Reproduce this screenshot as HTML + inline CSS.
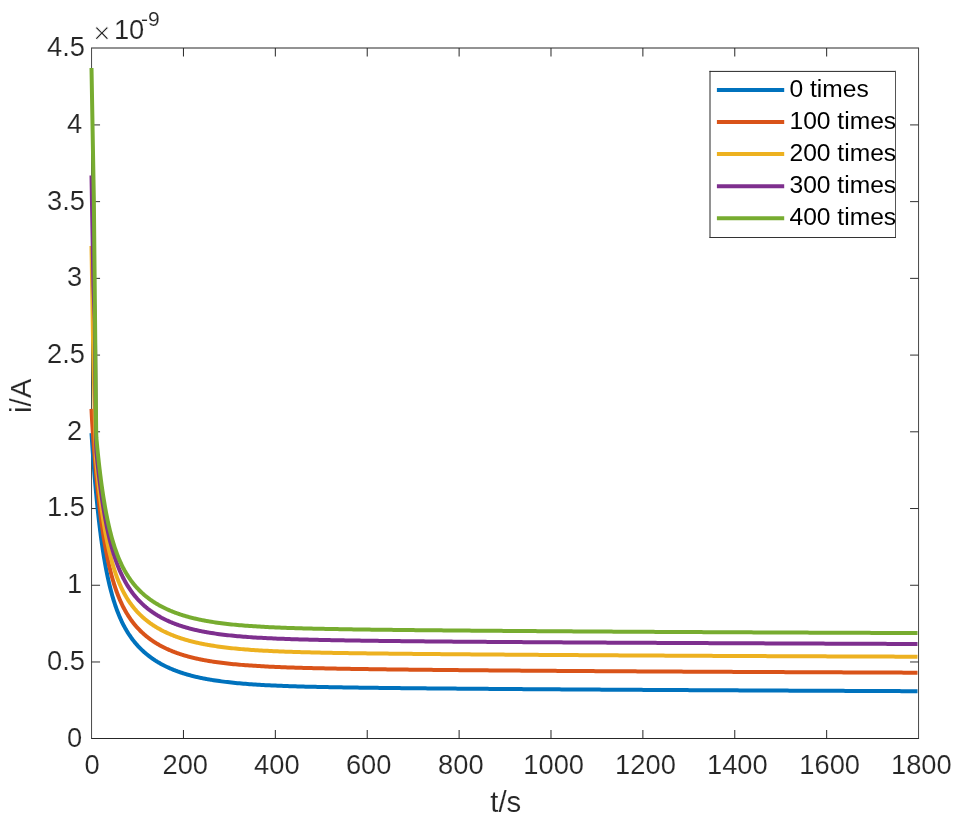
<!DOCTYPE html>
<html lang="en"><head><meta charset="utf-8"><title>i-t curves</title>
<style>html,body{margin:0;padding:0;background:#fff}body{width:958px;height:824px;overflow:hidden}svg{display:block}text{font-family:"Liberation Sans",sans-serif;fill:#262626;stroke:#fff;stroke-width:0.15px}.lg text{fill:#000;stroke:none}</style></head><body>
<svg width="958" height="824" viewBox="0 0 958 824">
<rect width="958" height="824" fill="#fff"/>
<g stroke="#262626" stroke-width="1" fill="none">
<path d="M91.05,738.5 H919.05"/>
<path d="M91.05,48.0 H919.05"/>
<path stroke="#484848" d="M91.55,48.0 V738.5 M918.55,48.0 V738.5"/>
<path d="M183.44,738.5 v-8.5 M183.44,48.0 v8.5"/>
<path stroke="#303030" d="M91.55,661.98 h8.5 M918.55,661.98 h-8.5"/>
<path d="M275.33,738.5 v-8.5 M275.33,48.0 v8.5"/>
<path stroke="#303030" d="M91.55,585.26 h8.5 M918.55,585.26 h-8.5"/>
<path d="M367.22,738.5 v-8.5 M367.22,48.0 v8.5"/>
<path stroke="#303030" d="M91.55,508.53 h8.5 M918.55,508.53 h-8.5"/>
<path d="M459.11,738.5 v-8.5 M459.11,48.0 v8.5"/>
<path stroke="#303030" d="M91.55,431.81 h8.5 M918.55,431.81 h-8.5"/>
<path d="M550.99,738.5 v-8.5 M550.99,48.0 v8.5"/>
<path stroke="#303030" d="M91.55,355.09 h8.5 M918.55,355.09 h-8.5"/>
<path d="M642.88,738.5 v-8.5 M642.88,48.0 v8.5"/>
<path stroke="#303030" d="M91.55,278.37 h8.5 M918.55,278.37 h-8.5"/>
<path d="M734.77,738.5 v-8.5 M734.77,48.0 v8.5"/>
<path stroke="#303030" d="M91.55,201.64 h8.5 M918.55,201.64 h-8.5"/>
<path d="M826.66,738.5 v-8.5 M826.66,48.0 v8.5"/>
<path stroke="#303030" d="M91.55,124.92 h8.5 M918.55,124.92 h-8.5"/>
</g>
<g fill="none" stroke-width="4" stroke-linejoin="round" stroke-linecap="butt">
<path stroke="#0072BD" d="M91.50,433.10 L91.70,436.19 L91.90,439.23 L92.10,442.22 L92.30,445.16 L92.50,448.06 L92.70,450.91 L92.90,453.71 L93.10,456.47 L93.30,459.18 L93.50,461.86 L93.70,464.49 L93.90,467.07 L94.10,469.62 L94.30,472.13 L94.50,474.60 L94.70,477.03 L94.90,479.42 L95.10,481.77 L95.30,484.09 L95.50,486.37 L95.70,488.62 L95.90,490.83 L96.10,493.00 L96.30,495.15 L96.50,497.26 L96.70,499.34 L96.90,501.38 L97.10,503.40 L97.30,505.38 L97.50,507.34 L97.70,509.26 L97.90,511.16 L98.10,513.02 L98.30,514.86 L98.50,516.67 L98.70,518.46 L98.90,520.21 L99.10,521.94 L99.30,523.65 L99.50,525.33 L99.70,526.99 L99.90,528.62 L100.10,530.22 L100.30,531.81 L100.50,533.37 L100.70,534.90 L100.90,536.42 L101.10,537.91 L101.30,539.38 L101.50,540.83 L101.70,542.26 L101.90,543.67 L102.10,545.06 L102.30,546.43 L102.50,547.78 L102.70,549.11 L102.90,550.42 L103.10,551.72 L103.30,552.99 L103.50,554.25 L104.00,557.31 L104.50,560.28 L105.00,563.14 L105.50,565.90 L106.00,568.57 L106.50,571.16 L107.00,573.65 L107.50,576.07 L108.00,578.41 L108.50,580.67 L109.00,582.87 L109.50,584.99 L110.00,587.05 L110.50,589.04 L111.00,590.97 L111.50,592.84 L112.00,594.66 L112.50,596.43 L113.00,598.14 L113.50,599.80 L114.00,601.41 L114.50,602.98 L115.00,604.50 L115.50,605.99 L116.00,607.43 L116.50,608.83 L117.00,610.19 L117.50,611.52 L118.00,612.81 L118.50,614.07 L119.00,615.29 L119.50,616.49 L120.00,617.65 L120.50,618.78 L121.00,619.89 L121.50,620.97 L122.00,622.02 L122.50,623.05 L123.00,624.05 L123.50,625.04 L124.00,625.99 L124.50,626.93 L125.00,627.84 L125.50,628.74 L126.00,629.61 L126.50,630.47 L127.00,631.30 L127.50,632.12 L128.00,632.93 L128.50,633.71 L129.00,634.48 L129.50,635.23 L130.00,635.97 L130.50,636.69 L131.00,637.40 L131.50,638.10 L132.00,638.78 L132.50,639.45 L133.00,640.10 L133.50,640.75 L134.00,641.38 L134.50,642.00 L135.00,642.61 L135.50,643.21 L136.00,643.79 L136.50,644.37 L137.00,644.94 L137.50,645.49 L138.00,646.04 L138.50,646.58 L139.00,647.11 L139.50,647.63 L140.00,648.14 L140.50,648.64 L141.00,649.14 L141.50,649.62 L142.00,650.10 L142.50,650.57 L143.00,651.04 L143.50,651.49 L144.00,651.94 L144.50,652.39 L145.00,652.82 L145.50,653.25 L146.00,653.67 L146.50,654.09 L147.00,654.50 L147.50,654.90 L148.00,655.30 L148.50,655.69 L149.00,656.08 L149.50,656.46 L150.00,656.84 L150.50,657.21 L151.00,657.57 L151.50,657.93 L152.00,658.29 L152.50,658.64 L153.00,658.98 L153.50,659.32 L154.00,659.66 L154.50,659.99 L155.00,660.31 L155.50,660.64 L156.00,660.95 L156.50,661.27 L157.00,661.58 L157.50,661.88 L158.00,662.18 L158.50,662.48 L159.00,662.77 L159.50,663.06 L160.00,663.35 L160.50,663.63 L161.00,663.91 L161.50,664.18 L162.00,664.45 L162.50,664.72 L163.00,664.98 L163.50,665.24 L164.00,665.50 L164.50,665.75 L165.00,666.01 L165.50,666.25 L166.00,666.50 L166.50,666.74 L167.00,666.98 L167.50,667.21 L168.00,667.44 L168.50,667.67 L169.00,667.90 L169.50,668.12 L170.00,668.35 L170.50,668.56 L171.00,668.78 L171.50,668.99 L172.00,669.20 L172.50,669.41 L173.00,669.62 L173.50,669.82 L174.00,670.02 L174.50,670.22 L175.00,670.41 L175.50,670.60 L176.00,670.80 L176.50,670.98 L177.00,671.17 L177.50,671.35 L178.00,671.54 L178.50,671.71 L179.00,671.89 L179.50,672.07 L180.00,672.24 L180.50,672.41 L181.00,672.58 L181.50,672.75 L182.00,672.91 L182.50,673.08 L183.00,673.24 L183.50,673.40 L184.00,673.55 L184.50,673.71 L185.00,673.86 L185.50,674.01 L186.00,674.16 L186.50,674.31 L187.00,674.46 L187.50,674.60 L188.00,674.75 L188.50,674.89 L189.00,675.03 L189.50,675.16 L190.00,675.30 L190.50,675.44 L191.00,675.57 L191.50,675.70 L192.00,675.83 L192.50,675.96 L193.00,676.09 L193.50,676.21 L194.00,676.34 L194.50,676.46 L195.00,676.58 L195.50,676.70 L196.00,676.82 L196.50,676.94 L197.00,677.05 L197.50,677.17 L198.00,677.28 L198.50,677.39 L199.00,677.50 L199.50,677.61 L200.00,677.72 L200.50,677.83 L201.00,677.93 L201.50,678.04 L202.00,678.14 L202.50,678.24 L203.00,678.34 L203.50,678.44 L204.00,678.54 L204.50,678.64 L205.00,678.73 L205.50,678.83 L206.00,678.92 L206.50,679.02 L207.00,679.11 L207.50,679.20 L208.00,679.29 L208.50,679.38 L209.00,679.47 L209.50,679.55 L210.00,679.64 L210.50,679.72 L211.00,679.81 L211.50,679.89 L213.50,680.22 L215.50,680.52 L217.50,680.82 L219.50,681.10 L221.50,681.37 L223.50,681.63 L225.50,681.88 L227.50,682.11 L229.50,682.34 L231.50,682.56 L233.50,682.76 L235.50,682.96 L237.50,683.15 L239.50,683.34 L241.50,683.51 L243.50,683.68 L245.50,683.84 L247.50,683.99 L249.50,684.14 L251.50,684.28 L253.50,684.42 L255.50,684.55 L257.50,684.68 L259.50,684.80 L261.50,684.91 L263.50,685.02 L265.50,685.13 L267.50,685.23 L269.50,685.33 L271.50,685.43 L273.50,685.52 L275.50,685.61 L277.50,685.70 L279.50,685.78 L281.50,685.86 L283.50,685.93 L285.50,686.01 L287.50,686.08 L289.50,686.15 L291.50,686.22 L293.50,686.28 L295.50,686.34 L297.50,686.40 L299.50,686.46 L301.50,686.52 L303.50,686.57 L305.50,686.63 L307.50,686.68 L309.50,686.73 L311.50,686.78 L313.50,686.82 L315.50,686.87 L317.50,686.91 L319.50,686.96 L321.50,687.00 L323.50,687.04 L325.50,687.08 L327.50,687.12 L329.50,687.16 L331.50,687.20 L333.50,687.23 L335.50,687.27 L337.50,687.30 L339.50,687.34 L341.50,687.37 L343.50,687.40 L345.50,687.43 L347.50,687.47 L349.50,687.50 L351.50,687.53 L353.50,687.55 L355.50,687.58 L357.50,687.61 L359.50,687.64 L361.50,687.67 L363.50,687.69 L365.50,687.72 L367.50,687.75 L369.50,687.77 L371.50,687.80 L373.50,687.82 L375.50,687.84 L377.50,687.87 L379.50,687.89 L381.50,687.92 L383.50,687.94 L385.50,687.96 L387.50,687.98 L389.50,688.01 L391.50,688.03 L393.50,688.05 L395.50,688.07 L397.50,688.09 L399.50,688.11 L401.50,688.13 L403.50,688.15 L405.50,688.17 L407.50,688.19 L409.50,688.21 L411.50,688.23 L413.50,688.25 L415.50,688.27 L417.50,688.29 L419.50,688.31 L421.50,688.33 L423.50,688.34 L425.50,688.36 L427.50,688.38 L429.50,688.40 L431.50,688.42 L433.50,688.43 L435.50,688.45 L437.50,688.47 L439.50,688.49 L441.50,688.50 L443.50,688.52 L445.50,688.54 L447.50,688.56 L449.50,688.57 L451.50,688.59 L453.50,688.61 L455.50,688.62 L457.50,688.64 L459.50,688.65 L461.50,688.67 L463.50,688.69 L465.50,688.70 L467.50,688.72 L469.50,688.73 L471.50,688.75 L473.50,688.77 L475.50,688.78 L477.50,688.80 L479.50,688.81 L481.50,688.83 L483.50,688.84 L485.50,688.86 L487.50,688.87 L489.50,688.89 L491.50,688.90 L493.50,688.92 L495.50,688.93 L497.50,688.95 L499.50,688.96 L501.50,688.98 L503.50,688.99 L505.50,689.00 L507.50,689.02 L509.50,689.03 L511.50,689.05 L513.50,689.06 L515.50,689.08 L517.50,689.09 L519.50,689.10 L521.50,689.12 L523.50,689.13 L525.50,689.14 L527.50,689.16 L529.50,689.17 L531.50,689.19 L533.50,689.20 L535.50,689.21 L537.50,689.23 L539.50,689.24 L541.50,689.25 L543.50,689.27 L545.50,689.28 L547.50,689.29 L549.50,689.31 L551.50,689.32 L553.50,689.33 L555.50,689.35 L557.50,689.36 L559.50,689.37 L561.50,689.38 L563.50,689.40 L565.50,689.41 L567.50,689.42 L569.50,689.43 L571.50,689.45 L573.50,689.46 L575.50,689.47 L577.50,689.49 L579.50,689.50 L581.50,689.51 L583.50,689.52 L585.50,689.53 L587.50,689.55 L589.50,689.56 L591.50,689.57 L593.50,689.58 L595.50,689.60 L597.50,689.61 L599.50,689.62 L601.50,689.63 L603.50,689.64 L605.50,689.66 L607.50,689.67 L609.50,689.68 L611.50,689.69 L613.50,689.70 L615.50,689.72 L617.50,689.73 L619.50,689.74 L621.50,689.75 L623.50,689.76 L625.50,689.77 L627.50,689.78 L629.50,689.80 L631.50,689.81 L633.50,689.82 L635.50,689.83 L637.50,689.84 L639.50,689.85 L641.50,689.86 L643.50,689.88 L645.50,689.89 L647.50,689.90 L649.50,689.91 L651.50,689.92 L653.50,689.93 L655.50,689.94 L657.50,689.95 L659.50,689.97 L661.50,689.98 L663.50,689.99 L665.50,690.00 L667.50,690.01 L669.50,690.02 L671.50,690.03 L673.50,690.04 L675.50,690.05 L677.50,690.06 L679.50,690.07 L681.50,690.08 L683.50,690.10 L685.50,690.11 L687.50,690.12 L689.50,690.13 L691.50,690.14 L693.50,690.15 L695.50,690.16 L697.50,690.17 L699.50,690.18 L701.50,690.19 L703.50,690.20 L705.50,690.21 L707.50,690.22 L709.50,690.23 L711.50,690.24 L713.50,690.25 L715.50,690.26 L717.50,690.27 L719.50,690.28 L721.50,690.29 L723.50,690.30 L725.50,690.31 L727.50,690.32 L729.50,690.33 L731.50,690.34 L733.50,690.35 L735.50,690.36 L737.50,690.37 L739.50,690.38 L741.50,690.39 L743.50,690.40 L745.50,690.41 L747.50,690.42 L749.50,690.43 L751.50,690.44 L753.50,690.45 L755.50,690.46 L757.50,690.47 L759.50,690.48 L761.50,690.49 L763.50,690.50 L765.50,690.51 L767.50,690.52 L769.50,690.53 L771.50,690.54 L773.50,690.55 L775.50,690.56 L777.50,690.57 L779.50,690.58 L781.50,690.59 L783.50,690.60 L785.50,690.61 L787.50,690.62 L789.50,690.63 L791.50,690.64 L793.50,690.64 L795.50,690.65 L797.50,690.66 L799.50,690.67 L801.50,690.68 L803.50,690.69 L805.50,690.70 L807.50,690.71 L809.50,690.72 L811.50,690.73 L813.50,690.74 L815.50,690.75 L817.50,690.76 L819.50,690.77 L821.50,690.77 L823.50,690.78 L825.50,690.79 L827.50,690.80 L829.50,690.81 L831.50,690.82 L833.50,690.83 L835.50,690.84 L837.50,690.85 L839.50,690.86 L841.50,690.87 L843.50,690.87 L845.50,690.88 L847.50,690.89 L849.50,690.90 L851.50,690.91 L853.50,690.92 L855.50,690.93 L857.50,690.94 L859.50,690.95 L861.50,690.96 L863.50,690.96 L865.50,690.97 L867.50,690.98 L869.50,690.99 L871.50,691.00 L873.50,691.01 L875.50,691.02 L877.50,691.03 L879.50,691.03 L881.50,691.04 L883.50,691.05 L885.50,691.06 L887.50,691.07 L889.50,691.08 L891.50,691.09 L893.50,691.10 L895.50,691.10 L897.50,691.11 L899.50,691.12 L901.50,691.13 L903.50,691.14 L905.50,691.15 L907.50,691.16 L909.50,691.16 L911.50,691.17 L913.50,691.18 L915.50,691.19 L917.50,691.20"/>
<path stroke="#D95319" d="M91.50,408.80 L91.70,413.53 L91.90,417.45 L92.10,420.94 L92.30,424.18 L92.50,427.26 L92.70,430.25 L92.90,433.16 L93.10,436.01 L93.30,438.81 L93.50,441.56 L93.70,444.26 L93.90,446.92 L94.10,449.54 L94.30,452.11 L94.50,454.64 L94.70,457.14 L94.90,459.59 L95.10,462.01 L95.30,464.38 L95.50,466.72 L95.70,469.02 L95.90,471.29 L96.10,473.52 L96.30,475.72 L96.50,477.88 L96.70,480.00 L96.90,482.10 L97.10,484.16 L97.30,486.19 L97.50,488.19 L97.70,490.16 L97.90,492.10 L98.10,494.01 L98.30,495.89 L98.50,497.74 L98.70,499.56 L98.90,501.36 L99.10,503.13 L99.30,504.87 L99.50,506.58 L99.70,508.27 L99.90,509.94 L100.10,511.58 L100.30,513.19 L100.50,514.78 L100.70,516.35 L100.90,517.89 L101.10,519.42 L101.30,520.92 L101.50,522.39 L101.70,523.85 L101.90,525.29 L102.10,526.70 L102.30,528.09 L102.50,529.47 L102.70,530.82 L102.90,532.16 L103.10,533.47 L103.30,534.77 L103.50,536.05 L104.00,539.16 L104.50,542.17 L105.00,545.08 L105.50,547.88 L106.00,550.59 L106.50,553.21 L107.00,555.75 L107.50,558.19 L108.00,560.56 L108.50,562.85 L109.00,565.07 L109.50,567.22 L110.00,569.30 L110.50,571.31 L111.00,573.26 L111.50,575.15 L112.00,576.99 L112.50,578.77 L113.00,580.49 L113.50,582.17 L114.00,583.79 L114.50,585.37 L115.00,586.90 L115.50,588.39 L116.00,589.84 L116.50,591.25 L117.00,592.62 L117.50,593.95 L118.00,595.25 L118.50,596.51 L119.00,597.74 L119.50,598.94 L120.00,600.11 L120.50,601.24 L121.00,602.35 L121.50,603.43 L122.00,604.49 L122.50,605.52 L123.00,606.52 L123.50,607.50 L124.00,608.46 L124.50,609.39 L125.00,610.31 L125.50,611.20 L126.00,612.07 L126.50,612.93 L127.00,613.76 L127.50,614.58 L128.00,615.38 L128.50,616.16 L129.00,616.92 L129.50,617.67 L130.00,618.41 L130.50,619.13 L131.00,619.83 L131.50,620.52 L132.00,621.20 L132.50,621.87 L133.00,622.52 L133.50,623.16 L134.00,623.78 L134.50,624.40 L135.00,625.00 L135.50,625.59 L136.00,626.18 L136.50,626.75 L137.00,627.31 L137.50,627.86 L138.00,628.40 L138.50,628.93 L139.00,629.46 L139.50,629.97 L140.00,630.48 L140.50,630.97 L141.00,631.46 L141.50,631.94 L142.00,632.42 L142.50,632.88 L143.00,633.34 L143.50,633.79 L144.00,634.23 L144.50,634.67 L145.00,635.10 L145.50,635.52 L146.00,635.94 L146.50,636.35 L147.00,636.75 L147.50,637.15 L148.00,637.54 L148.50,637.93 L149.00,638.31 L149.50,638.68 L150.00,639.05 L150.50,639.41 L151.00,639.77 L151.50,640.12 L152.00,640.47 L152.50,640.81 L153.00,641.15 L153.50,641.49 L154.00,641.81 L154.50,642.14 L155.00,642.46 L155.50,642.77 L156.00,643.08 L156.50,643.39 L157.00,643.69 L157.50,643.99 L158.00,644.28 L158.50,644.57 L159.00,644.86 L159.50,645.14 L160.00,645.42 L160.50,645.70 L161.00,645.97 L161.50,646.23 L162.00,646.50 L162.50,646.76 L163.00,647.02 L163.50,647.27 L164.00,647.52 L164.50,647.77 L165.00,648.01 L165.50,648.25 L166.00,648.49 L166.50,648.72 L167.00,648.96 L167.50,649.19 L168.00,649.41 L168.50,649.63 L169.00,649.85 L169.50,650.07 L170.00,650.29 L170.50,650.50 L171.00,650.71 L171.50,650.91 L172.00,651.12 L172.50,651.32 L173.00,651.52 L173.50,651.71 L174.00,651.91 L174.50,652.10 L175.00,652.29 L175.50,652.47 L176.00,652.66 L176.50,652.84 L177.00,653.02 L177.50,653.20 L178.00,653.37 L178.50,653.55 L179.00,653.72 L179.50,653.89 L180.00,654.05 L180.50,654.22 L181.00,654.38 L181.50,654.54 L182.00,654.70 L182.50,654.86 L183.00,655.02 L183.50,655.17 L184.00,655.32 L184.50,655.47 L185.00,655.62 L185.50,655.76 L186.00,655.91 L186.50,656.05 L187.00,656.19 L187.50,656.33 L188.00,656.47 L188.50,656.60 L189.00,656.74 L189.50,656.87 L190.00,657.00 L190.50,657.13 L191.00,657.26 L191.50,657.39 L192.00,657.51 L192.50,657.64 L193.00,657.76 L193.50,657.88 L194.00,658.00 L194.50,658.12 L195.00,658.23 L195.50,658.35 L196.00,658.46 L196.50,658.57 L197.00,658.68 L197.50,658.79 L198.00,658.90 L198.50,659.01 L199.00,659.12 L199.50,659.22 L200.00,659.32 L200.50,659.43 L201.00,659.53 L201.50,659.63 L202.00,659.73 L202.50,659.82 L203.00,659.92 L203.50,660.02 L204.00,660.11 L204.50,660.20 L205.00,660.30 L205.50,660.39 L206.00,660.48 L206.50,660.57 L207.00,660.65 L207.50,660.74 L208.00,660.83 L208.50,660.91 L209.00,661.00 L209.50,661.08 L210.00,661.16 L210.50,661.24 L211.00,661.32 L211.50,661.40 L213.50,661.71 L215.50,662.01 L217.50,662.29 L219.50,662.56 L221.50,662.82 L223.50,663.07 L225.50,663.30 L227.50,663.53 L229.50,663.75 L231.50,663.95 L233.50,664.15 L235.50,664.34 L237.50,664.53 L239.50,664.70 L241.50,664.87 L243.50,665.03 L245.50,665.18 L247.50,665.33 L249.50,665.48 L251.50,665.61 L253.50,665.74 L255.50,665.87 L257.50,665.99 L259.50,666.11 L261.50,666.22 L263.50,666.33 L265.50,666.44 L267.50,666.54 L269.50,666.64 L271.50,666.73 L273.50,666.82 L275.50,666.91 L277.50,666.99 L279.50,667.07 L281.50,667.15 L283.50,667.23 L285.50,667.30 L287.50,667.38 L289.50,667.45 L291.50,667.51 L293.50,667.58 L295.50,667.64 L297.50,667.70 L299.50,667.76 L301.50,667.82 L303.50,667.88 L305.50,667.93 L307.50,667.98 L309.50,668.04 L311.50,668.09 L313.50,668.13 L315.50,668.18 L317.50,668.23 L319.50,668.27 L321.50,668.32 L323.50,668.36 L325.50,668.40 L327.50,668.45 L329.50,668.49 L331.50,668.53 L333.50,668.56 L335.50,668.60 L337.50,668.64 L339.50,668.68 L341.50,668.71 L343.50,668.75 L345.50,668.78 L347.50,668.82 L349.50,668.85 L351.50,668.88 L353.50,668.91 L355.50,668.94 L357.50,668.97 L359.50,669.01 L361.50,669.04 L363.50,669.06 L365.50,669.09 L367.50,669.12 L369.50,669.15 L371.50,669.18 L373.50,669.21 L375.50,669.23 L377.50,669.26 L379.50,669.28 L381.50,669.31 L383.50,669.34 L385.50,669.36 L387.50,669.39 L389.50,669.41 L391.50,669.44 L393.50,669.46 L395.50,669.48 L397.50,669.51 L399.50,669.53 L401.50,669.55 L403.50,669.58 L405.50,669.60 L407.50,669.62 L409.50,669.64 L411.50,669.66 L413.50,669.69 L415.50,669.71 L417.50,669.73 L419.50,669.75 L421.50,669.77 L423.50,669.79 L425.50,669.81 L427.50,669.83 L429.50,669.85 L431.50,669.87 L433.50,669.89 L435.50,669.91 L437.50,669.93 L439.50,669.95 L441.50,669.97 L443.50,669.99 L445.50,670.01 L447.50,670.03 L449.50,670.04 L451.50,670.06 L453.50,670.08 L455.50,670.10 L457.50,670.12 L459.50,670.13 L461.50,670.15 L463.50,670.17 L465.50,670.19 L467.50,670.20 L469.50,670.22 L471.50,670.24 L473.50,670.26 L475.50,670.27 L477.50,670.29 L479.50,670.31 L481.50,670.32 L483.50,670.34 L485.50,670.36 L487.50,670.37 L489.50,670.39 L491.50,670.40 L493.50,670.42 L495.50,670.44 L497.50,670.45 L499.50,670.47 L501.50,670.48 L503.50,670.50 L505.50,670.51 L507.50,670.53 L509.50,670.55 L511.50,670.56 L513.50,670.58 L515.50,670.59 L517.50,670.61 L519.50,670.62 L521.50,670.64 L523.50,670.65 L525.50,670.66 L527.50,670.68 L529.50,670.69 L531.50,670.71 L533.50,670.72 L535.50,670.74 L537.50,670.75 L539.50,670.76 L541.50,670.78 L543.50,670.79 L545.50,670.81 L547.50,670.82 L549.50,670.83 L551.50,670.85 L553.50,670.86 L555.50,670.87 L557.50,670.89 L559.50,670.90 L561.50,670.91 L563.50,670.93 L565.50,670.94 L567.50,670.95 L569.50,670.97 L571.50,670.98 L573.50,670.99 L575.50,671.01 L577.50,671.02 L579.50,671.03 L581.50,671.04 L583.50,671.06 L585.50,671.07 L587.50,671.08 L589.50,671.10 L591.50,671.11 L593.50,671.12 L595.50,671.13 L597.50,671.14 L599.50,671.16 L601.50,671.17 L603.50,671.18 L605.50,671.19 L607.50,671.21 L609.50,671.22 L611.50,671.23 L613.50,671.24 L615.50,671.25 L617.50,671.26 L619.50,671.28 L621.50,671.29 L623.50,671.30 L625.50,671.31 L627.50,671.32 L629.50,671.33 L631.50,671.35 L633.50,671.36 L635.50,671.37 L637.50,671.38 L639.50,671.39 L641.50,671.40 L643.50,671.41 L645.50,671.43 L647.50,671.44 L649.50,671.45 L651.50,671.46 L653.50,671.47 L655.50,671.48 L657.50,671.49 L659.50,671.50 L661.50,671.51 L663.50,671.52 L665.50,671.53 L667.50,671.55 L669.50,671.56 L671.50,671.57 L673.50,671.58 L675.50,671.59 L677.50,671.60 L679.50,671.61 L681.50,671.62 L683.50,671.63 L685.50,671.64 L687.50,671.65 L689.50,671.66 L691.50,671.67 L693.50,671.68 L695.50,671.69 L697.50,671.70 L699.50,671.71 L701.50,671.72 L703.50,671.73 L705.50,671.74 L707.50,671.75 L709.50,671.76 L711.50,671.77 L713.50,671.78 L715.50,671.79 L717.50,671.80 L719.50,671.81 L721.50,671.82 L723.50,671.83 L725.50,671.84 L727.50,671.85 L729.50,671.86 L731.50,671.87 L733.50,671.88 L735.50,671.89 L737.50,671.90 L739.50,671.91 L741.50,671.92 L743.50,671.93 L745.50,671.94 L747.50,671.95 L749.50,671.96 L751.50,671.97 L753.50,671.98 L755.50,671.99 L757.50,672.00 L759.50,672.01 L761.50,672.01 L763.50,672.02 L765.50,672.03 L767.50,672.04 L769.50,672.05 L771.50,672.06 L773.50,672.07 L775.50,672.08 L777.50,672.09 L779.50,672.10 L781.50,672.11 L783.50,672.12 L785.50,672.13 L787.50,672.13 L789.50,672.14 L791.50,672.15 L793.50,672.16 L795.50,672.17 L797.50,672.18 L799.50,672.19 L801.50,672.20 L803.50,672.21 L805.50,672.21 L807.50,672.22 L809.50,672.23 L811.50,672.24 L813.50,672.25 L815.50,672.26 L817.50,672.27 L819.50,672.28 L821.50,672.29 L823.50,672.29 L825.50,672.30 L827.50,672.31 L829.50,672.32 L831.50,672.33 L833.50,672.34 L835.50,672.35 L837.50,672.35 L839.50,672.36 L841.50,672.37 L843.50,672.38 L845.50,672.39 L847.50,672.40 L849.50,672.41 L851.50,672.41 L853.50,672.42 L855.50,672.43 L857.50,672.44 L859.50,672.45 L861.50,672.46 L863.50,672.47 L865.50,672.47 L867.50,672.48 L869.50,672.49 L871.50,672.50 L873.50,672.51 L875.50,672.52 L877.50,672.52 L879.50,672.53 L881.50,672.54 L883.50,672.55 L885.50,672.56 L887.50,672.56 L889.50,672.57 L891.50,672.58 L893.50,672.59 L895.50,672.60 L897.50,672.61 L899.50,672.61 L901.50,672.62 L903.50,672.63 L905.50,672.64 L907.50,672.65 L909.50,672.65 L911.50,672.66 L913.50,672.67 L915.50,672.68 L917.50,672.69"/>
<path stroke="#EDB120" d="M91.50,245.90 L93.00,338.00 L94.30,396.00 L95.90,458.00 L96.40,463.02 L96.50,464.12 L96.70,466.27 L96.90,468.37 L97.10,470.42 L97.30,472.43 L97.50,474.41 L97.70,476.34 L97.90,478.25 L98.10,480.13 L98.30,481.97 L98.50,483.79 L98.70,485.58 L98.90,487.34 L99.10,489.08 L99.30,490.79 L99.50,492.47 L99.70,494.13 L99.90,495.77 L100.10,497.38 L100.30,498.97 L100.50,500.53 L100.70,502.07 L100.90,503.59 L101.10,505.09 L101.30,506.57 L101.50,508.02 L101.70,509.45 L101.90,510.87 L102.10,512.26 L102.30,513.63 L102.50,514.98 L102.70,516.32 L102.90,517.63 L103.10,518.93 L103.30,520.21 L103.50,521.47 L104.00,524.54 L104.50,527.51 L105.00,530.38 L105.50,533.15 L106.00,535.82 L106.50,538.41 L107.00,540.91 L107.50,543.33 L108.00,545.67 L108.50,547.94 L109.00,550.13 L109.50,552.25 L110.00,554.31 L110.50,556.30 L111.00,558.23 L111.50,560.10 L112.00,561.92 L112.50,563.67 L113.00,565.38 L113.50,567.04 L114.00,568.64 L114.50,570.21 L115.00,571.72 L115.50,573.19 L116.00,574.63 L116.50,576.02 L117.00,577.37 L117.50,578.69 L118.00,579.97 L118.50,581.22 L119.00,582.43 L119.50,583.61 L120.00,584.76 L120.50,585.89 L121.00,586.98 L121.50,588.04 L122.00,589.08 L122.50,590.10 L123.00,591.09 L123.50,592.05 L124.00,593.00 L124.50,593.92 L125.00,594.82 L125.50,595.70 L126.00,596.56 L126.50,597.40 L127.00,598.22 L127.50,599.02 L128.00,599.81 L128.50,600.58 L129.00,601.33 L129.50,602.07 L130.00,602.79 L130.50,603.49 L131.00,604.19 L131.50,604.87 L132.00,605.53 L132.50,606.18 L133.00,606.82 L133.50,607.45 L134.00,608.07 L134.50,608.67 L135.00,609.26 L135.50,609.84 L136.00,610.42 L136.50,610.98 L137.00,611.53 L137.50,612.07 L138.00,612.60 L138.50,613.12 L139.00,613.63 L139.50,614.14 L140.00,614.64 L140.50,615.12 L141.00,615.60 L141.50,616.07 L142.00,616.54 L142.50,617.00 L143.00,617.44 L143.50,617.89 L144.00,618.32 L144.50,618.75 L145.00,619.17 L145.50,619.59 L146.00,620.00 L146.50,620.40 L147.00,620.80 L147.50,621.19 L148.00,621.57 L148.50,621.95 L149.00,622.32 L149.50,622.69 L150.00,623.06 L150.50,623.41 L151.00,623.77 L151.50,624.11 L152.00,624.46 L152.50,624.80 L153.00,625.13 L153.50,625.46 L154.00,625.78 L154.50,626.10 L155.00,626.42 L155.50,626.73 L156.00,627.04 L156.50,627.34 L157.00,627.64 L157.50,627.93 L158.00,628.22 L158.50,628.51 L159.00,628.79 L159.50,629.07 L160.00,629.35 L160.50,629.62 L161.00,629.89 L161.50,630.16 L162.00,630.42 L162.50,630.68 L163.00,630.93 L163.50,631.19 L164.00,631.43 L164.50,631.68 L165.00,631.92 L165.50,632.16 L166.00,632.40 L166.50,632.63 L167.00,632.87 L167.50,633.09 L168.00,633.32 L168.50,633.54 L169.00,633.76 L169.50,633.98 L170.00,634.19 L170.50,634.41 L171.00,634.61 L171.50,634.82 L172.00,635.03 L172.50,635.23 L173.00,635.43 L173.50,635.62 L174.00,635.82 L174.50,636.01 L175.00,636.20 L175.50,636.39 L176.00,636.58 L176.50,636.76 L177.00,636.94 L177.50,637.12 L178.00,637.30 L178.50,637.47 L179.00,637.64 L179.50,637.82 L180.00,637.98 L180.50,638.15 L181.00,638.32 L181.50,638.48 L182.00,638.64 L182.50,638.80 L183.00,638.96 L183.50,639.11 L184.00,639.27 L184.50,639.42 L185.00,639.57 L185.50,639.72 L186.00,639.86 L186.50,640.01 L187.00,640.15 L187.50,640.29 L188.00,640.43 L188.50,640.57 L189.00,640.71 L189.50,640.84 L190.00,640.98 L190.50,641.11 L191.00,641.24 L191.50,641.37 L192.00,641.50 L192.50,641.63 L193.00,641.75 L193.50,641.87 L194.00,642.00 L194.50,642.12 L195.00,642.24 L195.50,642.35 L196.00,642.47 L196.50,642.59 L197.00,642.70 L197.50,642.81 L198.00,642.92 L198.50,643.04 L199.00,643.14 L199.50,643.25 L200.00,643.36 L200.50,643.46 L201.00,643.57 L201.50,643.67 L202.00,643.77 L202.50,643.87 L203.00,643.97 L203.50,644.07 L204.00,644.17 L204.50,644.27 L205.00,644.36 L205.50,644.46 L206.00,644.55 L206.50,644.64 L207.00,644.73 L207.50,644.82 L208.00,644.91 L208.50,645.00 L209.00,645.09 L209.50,645.17 L210.00,645.26 L210.50,645.34 L211.00,645.43 L211.50,645.51 L213.50,645.83 L215.50,646.14 L217.50,646.43 L219.50,646.71 L221.50,646.98 L223.50,647.24 L225.50,647.49 L227.50,647.72 L229.50,647.95 L231.50,648.17 L233.50,648.37 L235.50,648.57 L237.50,648.76 L239.50,648.95 L241.50,649.12 L243.50,649.29 L245.50,649.45 L247.50,649.61 L249.50,649.76 L251.50,649.90 L253.50,650.04 L255.50,650.17 L257.50,650.30 L259.50,650.42 L261.50,650.54 L263.50,650.65 L265.50,650.76 L267.50,650.86 L269.50,650.96 L271.50,651.06 L273.50,651.15 L275.50,651.24 L277.50,651.33 L279.50,651.41 L281.50,651.49 L283.50,651.57 L285.50,651.65 L287.50,651.72 L289.50,651.79 L291.50,651.86 L293.50,651.92 L295.50,651.98 L297.50,652.04 L299.50,652.10 L301.50,652.16 L303.50,652.22 L305.50,652.27 L307.50,652.32 L309.50,652.37 L311.50,652.42 L313.50,652.47 L315.50,652.52 L317.50,652.56 L319.50,652.60 L321.50,652.65 L323.50,652.69 L325.50,652.73 L327.50,652.77 L329.50,652.81 L331.50,652.84 L333.50,652.88 L335.50,652.91 L337.50,652.95 L339.50,652.98 L341.50,653.02 L343.50,653.05 L345.50,653.08 L347.50,653.11 L349.50,653.14 L351.50,653.17 L353.50,653.20 L355.50,653.23 L357.50,653.26 L359.50,653.28 L361.50,653.31 L363.50,653.34 L365.50,653.36 L367.50,653.39 L369.50,653.41 L371.50,653.44 L373.50,653.46 L375.50,653.49 L377.50,653.51 L379.50,653.53 L381.50,653.56 L383.50,653.58 L385.50,653.60 L387.50,653.62 L389.50,653.65 L391.50,653.67 L393.50,653.69 L395.50,653.71 L397.50,653.73 L399.50,653.75 L401.50,653.77 L403.50,653.79 L405.50,653.81 L407.50,653.83 L409.50,653.85 L411.50,653.87 L413.50,653.89 L415.50,653.91 L417.50,653.93 L419.50,653.95 L421.50,653.96 L423.50,653.98 L425.50,654.00 L427.50,654.02 L429.50,654.04 L431.50,654.05 L433.50,654.07 L435.50,654.09 L437.50,654.11 L439.50,654.12 L441.50,654.14 L443.50,654.16 L445.50,654.17 L447.50,654.19 L449.50,654.21 L451.50,654.22 L453.50,654.24 L455.50,654.26 L457.50,654.27 L459.50,654.29 L461.50,654.31 L463.50,654.32 L465.50,654.34 L467.50,654.35 L469.50,654.37 L471.50,654.38 L473.50,654.40 L475.50,654.42 L477.50,654.43 L479.50,654.45 L481.50,654.46 L483.50,654.48 L485.50,654.49 L487.50,654.51 L489.50,654.52 L491.50,654.54 L493.50,654.55 L495.50,654.57 L497.50,654.58 L499.50,654.60 L501.50,654.61 L503.50,654.62 L505.50,654.64 L507.50,654.65 L509.50,654.67 L511.50,654.68 L513.50,654.70 L515.50,654.71 L517.50,654.72 L519.50,654.74 L521.50,654.75 L523.50,654.77 L525.50,654.78 L527.50,654.79 L529.50,654.81 L531.50,654.82 L533.50,654.84 L535.50,654.85 L537.50,654.86 L539.50,654.88 L541.50,654.89 L543.50,654.90 L545.50,654.92 L547.50,654.93 L549.50,654.94 L551.50,654.96 L553.50,654.97 L555.50,654.98 L557.50,655.00 L559.50,655.01 L561.50,655.02 L563.50,655.03 L565.50,655.05 L567.50,655.06 L569.50,655.07 L571.50,655.09 L573.50,655.10 L575.50,655.11 L577.50,655.12 L579.50,655.14 L581.50,655.15 L583.50,655.16 L585.50,655.17 L587.50,655.19 L589.50,655.20 L591.50,655.21 L593.50,655.22 L595.50,655.23 L597.50,655.25 L599.50,655.26 L601.50,655.27 L603.50,655.28 L605.50,655.29 L607.50,655.31 L609.50,655.32 L611.50,655.33 L613.50,655.34 L615.50,655.35 L617.50,655.37 L619.50,655.38 L621.50,655.39 L623.50,655.40 L625.50,655.41 L627.50,655.42 L629.50,655.43 L631.50,655.45 L633.50,655.46 L635.50,655.47 L637.50,655.48 L639.50,655.49 L641.50,655.50 L643.50,655.51 L645.50,655.52 L647.50,655.54 L649.50,655.55 L651.50,655.56 L653.50,655.57 L655.50,655.58 L657.50,655.59 L659.50,655.60 L661.50,655.61 L663.50,655.62 L665.50,655.63 L667.50,655.64 L669.50,655.65 L671.50,655.67 L673.50,655.68 L675.50,655.69 L677.50,655.70 L679.50,655.71 L681.50,655.72 L683.50,655.73 L685.50,655.74 L687.50,655.75 L689.50,655.76 L691.50,655.77 L693.50,655.78 L695.50,655.79 L697.50,655.80 L699.50,655.81 L701.50,655.82 L703.50,655.83 L705.50,655.84 L707.50,655.85 L709.50,655.86 L711.50,655.87 L713.50,655.88 L715.50,655.89 L717.50,655.90 L719.50,655.91 L721.50,655.92 L723.50,655.93 L725.50,655.94 L727.50,655.95 L729.50,655.96 L731.50,655.97 L733.50,655.98 L735.50,655.98 L737.50,655.99 L739.50,656.00 L741.50,656.01 L743.50,656.02 L745.50,656.03 L747.50,656.04 L749.50,656.05 L751.50,656.06 L753.50,656.07 L755.50,656.08 L757.50,656.09 L759.50,656.09 L761.50,656.10 L763.50,656.11 L765.50,656.12 L767.50,656.13 L769.50,656.14 L771.50,656.15 L773.50,656.16 L775.50,656.16 L777.50,656.17 L779.50,656.18 L781.50,656.19 L783.50,656.20 L785.50,656.21 L787.50,656.22 L789.50,656.22 L791.50,656.23 L793.50,656.24 L795.50,656.25 L797.50,656.26 L799.50,656.27 L801.50,656.27 L803.50,656.28 L805.50,656.29 L807.50,656.30 L809.50,656.31 L811.50,656.32 L813.50,656.32 L815.50,656.33 L817.50,656.34 L819.50,656.35 L821.50,656.36 L823.50,656.36 L825.50,656.37 L827.50,656.38 L829.50,656.39 L831.50,656.39 L833.50,656.40 L835.50,656.41 L837.50,656.42 L839.50,656.43 L841.50,656.43 L843.50,656.44 L845.50,656.45 L847.50,656.46 L849.50,656.46 L851.50,656.47 L853.50,656.48 L855.50,656.48 L857.50,656.49 L859.50,656.50 L861.50,656.51 L863.50,656.51 L865.50,656.52 L867.50,656.53 L869.50,656.54 L871.50,656.54 L873.50,656.55 L875.50,656.56 L877.50,656.56 L879.50,656.57 L881.50,656.58 L883.50,656.58 L885.50,656.59 L887.50,656.60 L889.50,656.61 L891.50,656.61 L893.50,656.62 L895.50,656.63 L897.50,656.63 L899.50,656.64 L901.50,656.65 L903.50,656.65 L905.50,656.66 L907.50,656.67 L909.50,656.67 L911.50,656.68 L913.50,656.68 L915.50,656.69 L917.50,656.70"/>
<path stroke="#7E2F8E" d="M91.50,175.50 L93.45,286.00 L94.80,322.00 L96.00,440.00 L96.40,451.94 L96.50,452.96 L96.70,454.98 L96.90,456.96 L97.10,458.92 L97.30,460.84 L97.50,462.74 L97.70,464.60 L97.90,466.45 L98.10,468.26 L98.30,470.04 L98.50,471.80 L98.70,473.54 L98.90,475.25 L99.10,476.93 L99.30,478.59 L99.50,480.22 L99.70,481.84 L99.90,483.42 L100.10,484.99 L100.30,486.53 L100.50,488.05 L100.70,489.55 L100.90,491.03 L101.10,492.48 L101.30,493.92 L101.50,495.34 L101.70,496.73 L101.90,498.11 L102.10,499.46 L102.30,500.80 L102.50,502.12 L102.70,503.42 L102.90,504.70 L103.10,505.97 L103.30,507.22 L103.50,508.45 L104.00,511.45 L104.50,514.35 L105.00,517.16 L105.50,519.87 L106.00,522.50 L106.50,525.03 L107.00,527.49 L107.50,529.87 L108.00,532.17 L108.50,534.41 L109.00,536.57 L109.50,538.66 L110.00,540.69 L110.50,542.66 L111.00,544.58 L111.50,546.43 L112.00,548.23 L112.50,549.98 L113.00,551.67 L113.50,553.32 L114.00,554.93 L114.50,556.48 L115.00,558.00 L115.50,559.47 L116.00,560.90 L116.50,562.30 L117.00,563.66 L117.50,564.98 L118.00,566.27 L118.50,567.52 L119.00,568.75 L119.50,569.94 L120.00,571.10 L120.50,572.23 L121.00,573.34 L121.50,574.42 L122.00,575.47 L122.50,576.50 L123.00,577.51 L123.50,578.49 L124.00,579.45 L124.50,580.39 L125.00,581.31 L125.50,582.20 L126.00,583.08 L126.50,583.94 L127.00,584.78 L127.50,585.60 L128.00,586.40 L128.50,587.19 L129.00,587.96 L129.50,588.72 L130.00,589.46 L130.50,590.19 L131.00,590.90 L131.50,591.60 L132.00,592.28 L132.50,592.95 L133.00,593.61 L133.50,594.26 L134.00,594.89 L134.50,595.52 L135.00,596.13 L135.50,596.73 L136.00,597.32 L136.50,597.90 L137.00,598.47 L137.50,599.03 L138.00,599.58 L138.50,600.11 L139.00,600.65 L139.50,601.17 L140.00,601.68 L140.50,602.18 L141.00,602.68 L141.50,603.17 L142.00,603.65 L142.50,604.12 L143.00,604.59 L143.50,605.04 L144.00,605.49 L144.50,605.94 L145.00,606.37 L145.50,606.80 L146.00,607.23 L146.50,607.64 L147.00,608.05 L147.50,608.46 L148.00,608.85 L148.50,609.25 L149.00,609.63 L149.50,610.01 L150.00,610.39 L150.50,610.76 L151.00,611.12 L151.50,611.48 L152.00,611.83 L152.50,612.18 L153.00,612.52 L153.50,612.86 L154.00,613.20 L154.50,613.53 L155.00,613.85 L155.50,614.17 L156.00,614.49 L156.50,614.80 L157.00,615.10 L157.50,615.41 L158.00,615.71 L158.50,616.00 L159.00,616.29 L159.50,616.58 L160.00,616.86 L160.50,617.14 L161.00,617.41 L161.50,617.69 L162.00,617.95 L162.50,618.22 L163.00,618.48 L163.50,618.74 L164.00,618.99 L164.50,619.24 L165.00,619.49 L165.50,619.73 L166.00,619.97 L166.50,620.21 L167.00,620.45 L167.50,620.68 L168.00,620.91 L168.50,621.13 L169.00,621.36 L169.50,621.58 L170.00,621.80 L170.50,622.01 L171.00,622.22 L171.50,622.43 L172.00,622.64 L172.50,622.84 L173.00,623.04 L173.50,623.24 L174.00,623.44 L174.50,623.63 L175.00,623.82 L175.50,624.01 L176.00,624.20 L176.50,624.38 L177.00,624.57 L177.50,624.75 L178.00,624.92 L178.50,625.10 L179.00,625.27 L179.50,625.44 L180.00,625.61 L180.50,625.78 L181.00,625.94 L181.50,626.11 L182.00,626.27 L182.50,626.43 L183.00,626.58 L183.50,626.74 L184.00,626.89 L184.50,627.04 L185.00,627.19 L185.50,627.34 L186.00,627.49 L186.50,627.63 L187.00,627.77 L187.50,627.91 L188.00,628.05 L188.50,628.19 L189.00,628.32 L189.50,628.46 L190.00,628.59 L190.50,628.72 L191.00,628.85 L191.50,628.98 L192.00,629.11 L192.50,629.23 L193.00,629.35 L193.50,629.48 L194.00,629.60 L194.50,629.71 L195.00,629.83 L195.50,629.95 L196.00,630.06 L196.50,630.18 L197.00,630.29 L197.50,630.40 L198.00,630.51 L198.50,630.62 L199.00,630.72 L199.50,630.83 L200.00,630.93 L200.50,631.04 L201.00,631.14 L201.50,631.24 L202.00,631.34 L202.50,631.44 L203.00,631.53 L203.50,631.63 L204.00,631.73 L204.50,631.82 L205.00,631.91 L205.50,632.00 L206.00,632.09 L206.50,632.18 L207.00,632.27 L207.50,632.36 L208.00,632.45 L208.50,632.53 L209.00,632.62 L209.50,632.70 L210.00,632.78 L210.50,632.87 L211.00,632.95 L211.50,633.03 L213.50,633.34 L215.50,633.63 L217.50,633.92 L219.50,634.19 L221.50,634.45 L223.50,634.70 L225.50,634.94 L227.50,635.16 L229.50,635.38 L231.50,635.59 L233.50,635.79 L235.50,635.98 L237.50,636.16 L239.50,636.34 L241.50,636.51 L243.50,636.67 L245.50,636.82 L247.50,636.97 L249.50,637.12 L251.50,637.25 L253.50,637.39 L255.50,637.51 L257.50,637.64 L259.50,637.75 L261.50,637.87 L263.50,637.97 L265.50,638.08 L267.50,638.18 L269.50,638.28 L271.50,638.37 L273.50,638.46 L275.50,638.55 L277.50,638.63 L279.50,638.72 L281.50,638.80 L283.50,638.87 L285.50,638.94 L287.50,639.02 L289.50,639.09 L291.50,639.15 L293.50,639.22 L295.50,639.28 L297.50,639.34 L299.50,639.40 L301.50,639.46 L303.50,639.51 L305.50,639.57 L307.50,639.62 L309.50,639.67 L311.50,639.72 L313.50,639.77 L315.50,639.82 L317.50,639.86 L319.50,639.91 L321.50,639.95 L323.50,639.99 L325.50,640.04 L327.50,640.08 L329.50,640.12 L331.50,640.15 L333.50,640.19 L335.50,640.23 L337.50,640.27 L339.50,640.30 L341.50,640.34 L343.50,640.37 L345.50,640.40 L347.50,640.44 L349.50,640.47 L351.50,640.50 L353.50,640.53 L355.50,640.56 L357.50,640.59 L359.50,640.62 L361.50,640.65 L363.50,640.68 L365.50,640.70 L367.50,640.73 L369.50,640.76 L371.50,640.79 L373.50,640.81 L375.50,640.84 L377.50,640.86 L379.50,640.89 L381.50,640.91 L383.50,640.94 L385.50,640.96 L387.50,640.98 L389.50,641.01 L391.50,641.03 L393.50,641.05 L395.50,641.07 L397.50,641.10 L399.50,641.12 L401.50,641.14 L403.50,641.16 L405.50,641.18 L407.50,641.20 L409.50,641.22 L411.50,641.24 L413.50,641.26 L415.50,641.28 L417.50,641.30 L419.50,641.32 L421.50,641.34 L423.50,641.36 L425.50,641.38 L427.50,641.40 L429.50,641.42 L431.50,641.44 L433.50,641.45 L435.50,641.47 L437.50,641.49 L439.50,641.51 L441.50,641.52 L443.50,641.54 L445.50,641.56 L447.50,641.58 L449.50,641.59 L451.50,641.61 L453.50,641.63 L455.50,641.64 L457.50,641.66 L459.50,641.68 L461.50,641.69 L463.50,641.71 L465.50,641.72 L467.50,641.74 L469.50,641.75 L471.50,641.77 L473.50,641.78 L475.50,641.80 L477.50,641.82 L479.50,641.83 L481.50,641.85 L483.50,641.86 L485.50,641.87 L487.50,641.89 L489.50,641.90 L491.50,641.92 L493.50,641.93 L495.50,641.95 L497.50,641.96 L499.50,641.97 L501.50,641.99 L503.50,642.00 L505.50,642.02 L507.50,642.03 L509.50,642.04 L511.50,642.06 L513.50,642.07 L515.50,642.08 L517.50,642.10 L519.50,642.11 L521.50,642.12 L523.50,642.14 L525.50,642.15 L527.50,642.16 L529.50,642.17 L531.50,642.19 L533.50,642.20 L535.50,642.21 L537.50,642.23 L539.50,642.24 L541.50,642.25 L543.50,642.26 L545.50,642.27 L547.50,642.29 L549.50,642.30 L551.50,642.31 L553.50,642.32 L555.50,642.34 L557.50,642.35 L559.50,642.36 L561.50,642.37 L563.50,642.38 L565.50,642.39 L567.50,642.41 L569.50,642.42 L571.50,642.43 L573.50,642.44 L575.50,642.45 L577.50,642.46 L579.50,642.47 L581.50,642.49 L583.50,642.50 L585.50,642.51 L587.50,642.52 L589.50,642.53 L591.50,642.54 L593.50,642.55 L595.50,642.56 L597.50,642.57 L599.50,642.58 L601.50,642.60 L603.50,642.61 L605.50,642.62 L607.50,642.63 L609.50,642.64 L611.50,642.65 L613.50,642.66 L615.50,642.67 L617.50,642.68 L619.50,642.69 L621.50,642.70 L623.50,642.71 L625.50,642.72 L627.50,642.73 L629.50,642.74 L631.50,642.75 L633.50,642.76 L635.50,642.77 L637.50,642.78 L639.50,642.79 L641.50,642.80 L643.50,642.81 L645.50,642.82 L647.50,642.83 L649.50,642.84 L651.50,642.85 L653.50,642.86 L655.50,642.87 L657.50,642.88 L659.50,642.89 L661.50,642.90 L663.50,642.91 L665.50,642.92 L667.50,642.93 L669.50,642.94 L671.50,642.95 L673.50,642.96 L675.50,642.97 L677.50,642.98 L679.50,642.99 L681.50,643.00 L683.50,643.01 L685.50,643.02 L687.50,643.03 L689.50,643.04 L691.50,643.04 L693.50,643.05 L695.50,643.06 L697.50,643.07 L699.50,643.08 L701.50,643.09 L703.50,643.10 L705.50,643.11 L707.50,643.12 L709.50,643.13 L711.50,643.14 L713.50,643.15 L715.50,643.16 L717.50,643.16 L719.50,643.17 L721.50,643.18 L723.50,643.19 L725.50,643.20 L727.50,643.21 L729.50,643.22 L731.50,643.23 L733.50,643.24 L735.50,643.24 L737.50,643.25 L739.50,643.26 L741.50,643.27 L743.50,643.28 L745.50,643.29 L747.50,643.30 L749.50,643.31 L751.50,643.32 L753.50,643.32 L755.50,643.33 L757.50,643.34 L759.50,643.35 L761.50,643.36 L763.50,643.37 L765.50,643.38 L767.50,643.38 L769.50,643.39 L771.50,643.40 L773.50,643.41 L775.50,643.42 L777.50,643.43 L779.50,643.44 L781.50,643.44 L783.50,643.45 L785.50,643.46 L787.50,643.47 L789.50,643.48 L791.50,643.49 L793.50,643.50 L795.50,643.50 L797.50,643.51 L799.50,643.52 L801.50,643.53 L803.50,643.54 L805.50,643.55 L807.50,643.55 L809.50,643.56 L811.50,643.57 L813.50,643.58 L815.50,643.59 L817.50,643.60 L819.50,643.60 L821.50,643.61 L823.50,643.62 L825.50,643.63 L827.50,643.64 L829.50,643.65 L831.50,643.65 L833.50,643.66 L835.50,643.67 L837.50,643.68 L839.50,643.69 L841.50,643.70 L843.50,643.70 L845.50,643.71 L847.50,643.72 L849.50,643.73 L851.50,643.74 L853.50,643.74 L855.50,643.75 L857.50,643.76 L859.50,643.77 L861.50,643.78 L863.50,643.79 L865.50,643.79 L867.50,643.80 L869.50,643.81 L871.50,643.82 L873.50,643.83 L875.50,643.83 L877.50,643.84 L879.50,643.85 L881.50,643.86 L883.50,643.87 L885.50,643.87 L887.50,643.88 L889.50,643.89 L891.50,643.90 L893.50,643.91 L895.50,643.91 L897.50,643.92 L899.50,643.93 L901.50,643.94 L903.50,643.95 L905.50,643.95 L907.50,643.96 L909.50,643.97 L911.50,643.98 L913.50,643.99 L915.50,643.99 L917.50,644.00"/>
<path stroke="#77AC30" d="M91.50,68.00 L93.85,200.00 L96.15,432.00 L96.40,438.02 L96.50,439.18 L96.70,441.44 L96.90,443.63 L97.10,445.76 L97.30,447.84 L97.50,449.88 L97.70,451.88 L97.90,453.84 L98.10,455.76 L98.30,457.66 L98.50,459.52 L98.70,461.35 L98.90,463.15 L99.10,464.92 L99.30,466.67 L99.50,468.39 L99.70,470.08 L99.90,471.75 L100.10,473.39 L100.30,475.01 L100.50,476.60 L100.70,478.17 L100.90,479.71 L101.10,481.23 L101.30,482.73 L101.50,484.21 L101.70,485.66 L101.90,487.10 L102.10,488.51 L102.30,489.90 L102.50,491.27 L102.70,492.62 L102.90,493.95 L103.10,495.27 L103.30,496.56 L103.50,497.83 L104.00,500.94 L104.50,503.94 L105.00,506.83 L105.50,509.62 L106.00,512.32 L106.50,514.92 L107.00,517.43 L107.50,519.86 L108.00,522.21 L108.50,524.49 L109.00,526.68 L109.50,528.81 L110.00,530.87 L110.50,532.86 L111.00,534.79 L111.50,536.66 L112.00,538.47 L112.50,540.23 L113.00,541.93 L113.50,543.59 L114.00,545.19 L114.50,546.74 L115.00,548.26 L115.50,549.72 L116.00,551.15 L116.50,552.54 L117.00,553.88 L117.50,555.19 L118.00,556.47 L118.50,557.71 L119.00,558.92 L119.50,560.09 L120.00,561.24 L120.50,562.35 L121.00,563.44 L121.50,564.50 L122.00,565.53 L122.50,566.54 L123.00,567.53 L123.50,568.49 L124.00,569.43 L124.50,570.34 L125.00,571.24 L125.50,572.11 L126.00,572.97 L126.50,573.80 L127.00,574.62 L127.50,575.42 L128.00,576.20 L128.50,576.97 L129.00,577.72 L129.50,578.45 L130.00,579.17 L130.50,579.87 L131.00,580.56 L131.50,581.24 L132.00,581.90 L132.50,582.55 L133.00,583.19 L133.50,583.82 L134.00,584.43 L134.50,585.03 L135.00,585.62 L135.50,586.20 L136.00,586.77 L136.50,587.33 L137.00,587.88 L137.50,588.42 L138.00,588.95 L138.50,589.48 L139.00,589.99 L139.50,590.49 L140.00,590.99 L140.50,591.48 L141.00,591.96 L141.50,592.43 L142.00,592.89 L142.50,593.35 L143.00,593.80 L143.50,594.24 L144.00,594.68 L144.50,595.10 L145.00,595.53 L145.50,595.94 L146.00,596.35 L146.50,596.75 L147.00,597.15 L147.50,597.54 L148.00,597.93 L148.50,598.31 L149.00,598.68 L149.50,599.05 L150.00,599.42 L150.50,599.77 L151.00,600.13 L151.50,600.48 L152.00,600.82 L152.50,601.16 L153.00,601.49 L153.50,601.82 L154.00,602.15 L154.50,602.47 L155.00,602.78 L155.50,603.09 L156.00,603.40 L156.50,603.71 L157.00,604.01 L157.50,604.30 L158.00,604.59 L158.50,604.88 L159.00,605.16 L159.50,605.44 L160.00,605.72 L160.50,605.99 L161.00,606.26 L161.50,606.53 L162.00,606.79 L162.50,607.05 L163.00,607.31 L163.50,607.56 L164.00,607.81 L164.50,608.05 L165.00,608.30 L165.50,608.54 L166.00,608.77 L166.50,609.01 L167.00,609.24 L167.50,609.47 L168.00,609.69 L168.50,609.92 L169.00,610.14 L169.50,610.35 L170.00,610.57 L170.50,610.78 L171.00,610.99 L171.50,611.20 L172.00,611.40 L172.50,611.60 L173.00,611.80 L173.50,612.00 L174.00,612.19 L174.50,612.38 L175.00,612.57 L175.50,612.76 L176.00,612.95 L176.50,613.13 L177.00,613.31 L177.50,613.49 L178.00,613.66 L178.50,613.84 L179.00,614.01 L179.50,614.18 L180.00,614.35 L180.50,614.52 L181.00,614.68 L181.50,614.84 L182.00,615.00 L182.50,615.16 L183.00,615.32 L183.50,615.47 L184.00,615.63 L184.50,615.78 L185.00,615.93 L185.50,616.07 L186.00,616.22 L186.50,616.36 L187.00,616.51 L187.50,616.65 L188.00,616.79 L188.50,616.92 L189.00,617.06 L189.50,617.19 L190.00,617.33 L190.50,617.46 L191.00,617.59 L191.50,617.72 L192.00,617.84 L192.50,617.97 L193.00,618.09 L193.50,618.21 L194.00,618.34 L194.50,618.46 L195.00,618.57 L195.50,618.69 L196.00,618.81 L196.50,618.92 L197.00,619.03 L197.50,619.14 L198.00,619.25 L198.50,619.36 L199.00,619.47 L199.50,619.58 L200.00,619.68 L200.50,619.79 L201.00,619.89 L201.50,619.99 L202.00,620.09 L202.50,620.19 L203.00,620.29 L203.50,620.39 L204.00,620.48 L204.50,620.58 L205.00,620.67 L205.50,620.77 L206.00,620.86 L206.50,620.95 L207.00,621.04 L207.50,621.13 L208.00,621.22 L208.50,621.30 L209.00,621.39 L209.50,621.47 L210.00,621.56 L210.50,621.64 L211.00,621.72 L211.50,621.80 L213.50,622.12 L215.50,622.42 L217.50,622.71 L219.50,622.99 L221.50,623.25 L223.50,623.50 L225.50,623.75 L227.50,623.98 L229.50,624.20 L231.50,624.41 L233.50,624.62 L235.50,624.81 L237.50,625.00 L239.50,625.18 L241.50,625.35 L243.50,625.51 L245.50,625.67 L247.50,625.82 L249.50,625.97 L251.50,626.11 L253.50,626.25 L255.50,626.37 L257.50,626.50 L259.50,626.62 L261.50,626.73 L263.50,626.84 L265.50,626.95 L267.50,627.05 L269.50,627.15 L271.50,627.24 L273.50,627.34 L275.50,627.42 L277.50,627.51 L279.50,627.59 L281.50,627.67 L283.50,627.75 L285.50,627.82 L287.50,627.89 L289.50,627.96 L291.50,628.03 L293.50,628.09 L295.50,628.15 L297.50,628.21 L299.50,628.27 L301.50,628.33 L303.50,628.39 L305.50,628.44 L307.50,628.49 L309.50,628.54 L311.50,628.59 L313.50,628.64 L315.50,628.68 L317.50,628.73 L319.50,628.77 L321.50,628.82 L323.50,628.86 L325.50,628.90 L327.50,628.94 L329.50,628.98 L331.50,629.02 L333.50,629.05 L335.50,629.09 L337.50,629.12 L339.50,629.16 L341.50,629.19 L343.50,629.23 L345.50,629.26 L347.50,629.29 L349.50,629.32 L351.50,629.35 L353.50,629.38 L355.50,629.41 L357.50,629.44 L359.50,629.47 L361.50,629.50 L363.50,629.53 L365.50,629.55 L367.50,629.58 L369.50,629.61 L371.50,629.63 L373.50,629.66 L375.50,629.68 L377.50,629.71 L379.50,629.73 L381.50,629.76 L383.50,629.78 L385.50,629.80 L387.50,629.83 L389.50,629.85 L391.50,629.87 L393.50,629.89 L395.50,629.92 L397.50,629.94 L399.50,629.96 L401.50,629.98 L403.50,630.00 L405.50,630.02 L407.50,630.05 L409.50,630.07 L411.50,630.09 L413.50,630.11 L415.50,630.13 L417.50,630.15 L419.50,630.17 L421.50,630.19 L423.50,630.21 L425.50,630.23 L427.50,630.24 L429.50,630.26 L431.50,630.28 L433.50,630.30 L435.50,630.32 L437.50,630.34 L439.50,630.36 L441.50,630.37 L443.50,630.39 L445.50,630.41 L447.50,630.43 L449.50,630.45 L451.50,630.46 L453.50,630.48 L455.50,630.50 L457.50,630.52 L459.50,630.53 L461.50,630.55 L463.50,630.57 L465.50,630.58 L467.50,630.60 L469.50,630.62 L471.50,630.63 L473.50,630.65 L475.50,630.67 L477.50,630.68 L479.50,630.70 L481.50,630.72 L483.50,630.73 L485.50,630.75 L487.50,630.76 L489.50,630.78 L491.50,630.79 L493.50,630.81 L495.50,630.83 L497.50,630.84 L499.50,630.86 L501.50,630.87 L503.50,630.89 L505.50,630.90 L507.50,630.92 L509.50,630.93 L511.50,630.95 L513.50,630.96 L515.50,630.98 L517.50,630.99 L519.50,631.01 L521.50,631.02 L523.50,631.04 L525.50,631.05 L527.50,631.07 L529.50,631.08 L531.50,631.09 L533.50,631.11 L535.50,631.12 L537.50,631.14 L539.50,631.15 L541.50,631.17 L543.50,631.18 L545.50,631.19 L547.50,631.21 L549.50,631.22 L551.50,631.23 L553.50,631.25 L555.50,631.26 L557.50,631.28 L559.50,631.29 L561.50,631.30 L563.50,631.32 L565.50,631.33 L567.50,631.34 L569.50,631.36 L571.50,631.37 L573.50,631.38 L575.50,631.40 L577.50,631.41 L579.50,631.42 L581.50,631.43 L583.50,631.45 L585.50,631.46 L587.50,631.47 L589.50,631.49 L591.50,631.50 L593.50,631.51 L595.50,631.52 L597.50,631.54 L599.50,631.55 L601.50,631.56 L603.50,631.57 L605.50,631.59 L607.50,631.60 L609.50,631.61 L611.50,631.62 L613.50,631.63 L615.50,631.65 L617.50,631.66 L619.50,631.67 L621.50,631.68 L623.50,631.69 L625.50,631.71 L627.50,631.72 L629.50,631.73 L631.50,631.74 L633.50,631.75 L635.50,631.76 L637.50,631.78 L639.50,631.79 L641.50,631.80 L643.50,631.81 L645.50,631.82 L647.50,631.83 L649.50,631.84 L651.50,631.86 L653.50,631.87 L655.50,631.88 L657.50,631.89 L659.50,631.90 L661.50,631.91 L663.50,631.92 L665.50,631.93 L667.50,631.94 L669.50,631.96 L671.50,631.97 L673.50,631.98 L675.50,631.99 L677.50,632.00 L679.50,632.01 L681.50,632.02 L683.50,632.03 L685.50,632.04 L687.50,632.05 L689.50,632.06 L691.50,632.07 L693.50,632.08 L695.50,632.09 L697.50,632.10 L699.50,632.11 L701.50,632.12 L703.50,632.13 L705.50,632.14 L707.50,632.15 L709.50,632.16 L711.50,632.18 L713.50,632.19 L715.50,632.20 L717.50,632.21 L719.50,632.21 L721.50,632.22 L723.50,632.23 L725.50,632.24 L727.50,632.25 L729.50,632.26 L731.50,632.27 L733.50,632.28 L735.50,632.29 L737.50,632.30 L739.50,632.31 L741.50,632.32 L743.50,632.33 L745.50,632.34 L747.50,632.35 L749.50,632.36 L751.50,632.37 L753.50,632.38 L755.50,632.39 L757.50,632.40 L759.50,632.41 L761.50,632.42 L763.50,632.42 L765.50,632.43 L767.50,632.44 L769.50,632.45 L771.50,632.46 L773.50,632.47 L775.50,632.48 L777.50,632.49 L779.50,632.50 L781.50,632.51 L783.50,632.51 L785.50,632.52 L787.50,632.53 L789.50,632.54 L791.50,632.55 L793.50,632.56 L795.50,632.57 L797.50,632.58 L799.50,632.58 L801.50,632.59 L803.50,632.60 L805.50,632.61 L807.50,632.62 L809.50,632.63 L811.50,632.64 L813.50,632.64 L815.50,632.65 L817.50,632.66 L819.50,632.67 L821.50,632.68 L823.50,632.69 L825.50,632.69 L827.50,632.70 L829.50,632.71 L831.50,632.72 L833.50,632.73 L835.50,632.73 L837.50,632.74 L839.50,632.75 L841.50,632.76 L843.50,632.77 L845.50,632.77 L847.50,632.78 L849.50,632.79 L851.50,632.80 L853.50,632.81 L855.50,632.81 L857.50,632.82 L859.50,632.83 L861.50,632.84 L863.50,632.85 L865.50,632.85 L867.50,632.86 L869.50,632.87 L871.50,632.88 L873.50,632.88 L875.50,632.89 L877.50,632.90 L879.50,632.91 L881.50,632.91 L883.50,632.92 L885.50,632.93 L887.50,632.94 L889.50,632.94 L891.50,632.95 L893.50,632.96 L895.50,632.97 L897.50,632.97 L899.50,632.98 L901.50,632.99 L903.50,632.99 L905.50,633.00 L907.50,633.01 L909.50,633.02 L911.50,633.02 L913.50,633.03 L915.50,633.04 L917.50,633.04"/>
</g>
<g font-size="27.3px" text-anchor="middle">
<text x="92.05" y="773.9">0</text>
<text x="185.24" y="773.9">200</text>
<text x="276.83" y="773.9">400</text>
<text x="368.72" y="773.9">600</text>
<text x="460.81" y="773.9">800</text>
<text x="553.69" y="773.9">1000</text>
<text x="645.48" y="773.9">1200</text>
<text x="737.37" y="773.9">1400</text>
<text x="829.66" y="773.9">1600</text>
<text x="921.35" y="773.9">1800</text>
</g>
<g font-size="27.3px" text-anchor="end">
<text x="82.2" y="746.60">0</text>
<text x="84.95" y="669.88">0.5</text>
<text x="82.2" y="593.16">1</text>
<text x="84.95" y="516.43">1.5</text>
<text x="82.2" y="439.71">2</text>
<text x="84.95" y="362.99">2.5</text>
<text x="82.2" y="286.27">3</text>
<text x="84.95" y="209.54">3.5</text>
<text x="82.2" y="132.82">4</text>
<text x="84.95" y="56.10">4.5</text>
</g>
<text x="93.3" y="43.0" font-size="29.5px" style="stroke-width:0.8px">×</text>
<text x="113.9" y="38.9" font-size="27.3px">10</text>
<text x="141.0" y="26.3" font-size="21px">-9</text>
<text x="505.75" y="812.3" font-size="29.4px" text-anchor="middle">t/s</text>
<text transform="translate(30.6,395.85) rotate(-90)" font-size="29.4px" text-anchor="middle">i/A</text>
<rect x="710" y="71.4" width="185.5" height="166.1" fill="#fff"/>
<path d="M710,70.9 V238 M709.5,71.4 H896" stroke="#262626" stroke-width="1" fill="none"/>
<path d="M895.5,70.9 V238" stroke="#555" stroke-width="1" fill="none"/>
<path d="M709.5,237.5 H896" stroke="#333" stroke-width="1" fill="none"/>
<g stroke-width="4" fill="none">
<path stroke="#0072BD" d="M716.9,90.1 H784.2"/>
<path stroke="#D95319" d="M716.9,122.1 H784.2"/>
<path stroke="#EDB120" d="M716.9,154.1 H784.2"/>
<path stroke="#7E2F8E" d="M716.9,186.2 H784.2"/>
<path stroke="#77AC30" d="M716.9,218.2 H784.2"/>
</g>
<g class="lg" font-size="24.6px">
<text x="789.5" y="96.70">0 times</text>
<text x="789.5" y="128.70">100 times</text>
<text x="789.5" y="160.70">200 times</text>
<text x="789.5" y="192.80">300 times</text>
<text x="789.5" y="224.80">400 times</text>
</g>
</svg></body></html>
